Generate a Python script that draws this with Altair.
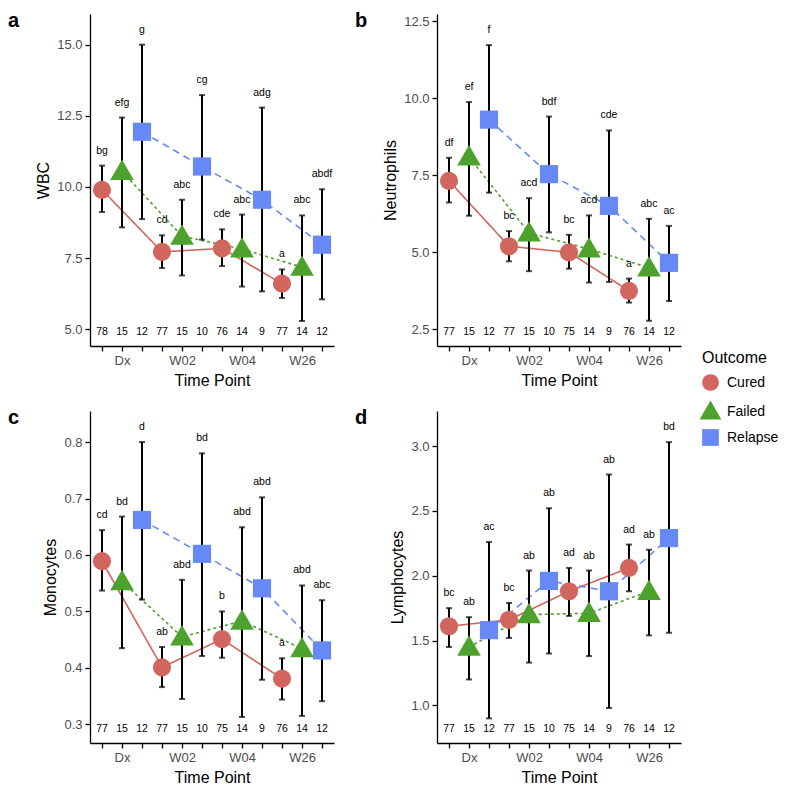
import altair as alt
import pandas as pd

timepoints = ["Dx", "W02", "W04", "W26"]
outcomes = ["Cured", "Failed", "Relapse"]
outcome_colors = ["#D2655E", "#4CA22D", "#6689F6"]
outcome_dashes = [[1, 0], [3, 3], [7, 5]]
# circle, enlarged upward triangle (ggplot pch 17), square
outcome_shapes = ["circle", "M0,-1.3L1.3,0.95L-1.3,0.95Z", "square"]

# ---- Panel a: WBC ----
wbc_mean = {"Cured": [9.90, 7.72, 7.84, 6.60], "Failed": [10.55, 8.27, 7.82, 7.18], "Relapse": [11.94, 10.72, 9.55, 7.97]}
wbc_lower = {"Cured": [9.12, 7.15, 7.22, 6.10], "Failed": [8.58, 6.89, 6.50, 5.29], "Relapse": [8.87, 8.15, 6.33, 6.05]}
wbc_upper = {"Cured": [10.75, 8.30, 8.51, 7.10], "Failed": [12.44, 9.55, 9.03, 9.00], "Relapse": [15.00, 13.23, 12.79, 9.92]}
wbc_sig = {"Cured": ["bg", "cd", "cde", "a"], "Failed": ["efg", "abc", "abc", "abc"], "Relapse": ["g", "cg", "adg", "abdf"]}
wbc_n = {"Cured": [78, 77, 76, 77], "Failed": [15, 15, 14, 14], "Relapse": [12, 10, 9, 12]}
wbc_ticks = [5.0, 7.5, 10.0, 12.5, 15.0]

# ---- Panel b: Neutrophils ----
neu_mean = {"Cured": [7.31, 5.19, 4.99, 3.74], "Failed": [8.09, 5.62, 5.10, 4.49], "Relapse": [9.30, 7.53, 6.50, 4.65]}
neu_lower = {"Cured": [6.61, 4.70, 4.46, 3.36], "Failed": [6.18, 4.38, 4.01, 2.77], "Relapse": [6.93, 5.64, 4.03, 3.41]}
neu_upper = {"Cured": [8.06, 5.68, 5.56, 4.14], "Failed": [9.87, 6.75, 6.19, 6.08], "Relapse": [11.72, 9.40, 8.95, 5.85]}
neu_sig = {"Cured": ["df", "bc", "bc", "a"], "Failed": ["ef", "acd", "acd", "abc"], "Relapse": ["f", "bdf", "cde", "ac"]}
neu_n = {"Cured": [77, 77, 75, 76], "Failed": [15, 15, 14, 14], "Relapse": [12, 10, 9, 12]}
neu_ticks = [2.5, 5.0, 7.5, 10.0, 12.5]

# ---- Panel c: Monocytes ----
mono_mean = {"Cured": [0.589, 0.401, 0.451, 0.381], "Failed": [0.553, 0.455, 0.483, 0.434], "Relapse": [0.662, 0.602, 0.541, 0.431]}
mono_lower = {"Cured": [0.537, 0.366, 0.418, 0.344], "Failed": [0.435, 0.345, 0.313, 0.315], "Relapse": [0.521, 0.421, 0.379, 0.341]}
mono_upper = {"Cured": [0.644, 0.437, 0.500, 0.417], "Failed": [0.668, 0.556, 0.649, 0.546], "Relapse": [0.800, 0.780, 0.702, 0.520]}
mono_sig = {"Cured": ["cd", "ab", "b", "a"], "Failed": ["bd", "abd", "abd", "abd"], "Relapse": ["d", "bd", "abd", "abc"]}
mono_n = {"Cured": [77, 77, 75, 76], "Failed": [15, 15, 14, 14], "Relapse": [12, 10, 9, 12]}
mono_ticks = [0.3, 0.4, 0.5, 0.6, 0.7, 0.8]

# ---- Panel d: Lymphocytes ----
lym_mean = {"Cured": [1.61, 1.66, 1.88, 2.06], "Failed": [1.45, 1.70, 1.71, 1.88], "Relapse": [1.58, 1.96, 1.88, 2.29]}
lym_lower = {"Cured": [1.45, 1.52, 1.69, 1.88], "Failed": [1.20, 1.33, 1.38, 1.54], "Relapse": [0.90, 1.40, 0.98, 1.56]}
lym_upper = {"Cured": [1.75, 1.79, 2.06, 2.24], "Failed": [1.68, 2.04, 2.04, 2.20], "Relapse": [2.26, 2.52, 2.78, 3.03]}
lym_sig = {"Cured": ["bc", "bc", "ad", "ad"], "Failed": ["ab", "ab", "ab", "ab"], "Relapse": ["ac", "ab", "ab", "bd"]}
lym_n = {"Cured": [77, 77, 75, 76], "Failed": [15, 15, 14, 14], "Relapse": [12, 10, 9, 12]}
lym_ticks = [1.0, 1.5, 2.0, 2.5, 3.0]

W, H = 244, 332
FONT = "Liberation Sans"

label_expr = " : ".join(
    f"datum.value == {ti * 3 + 2} ? '{t}'" for ti, t in enumerate(timepoints)
) + " : ''"


def panel(mean, lower, upper, sig, n, ytitle, ydomain, yticks, yfmt, letter):
    rows = []
    for oi, o in enumerate(outcomes):
        for ti, t in enumerate(timepoints):
            rows.append(dict(outcome=o, tp=t, pos=ti * 3 + oi + 1,
                             mean=mean[o][ti], lower=lower[o][ti], upper=upper[o][ti],
                             sig=sig[o][ti], n=str(n[o][ti])))
    df = pd.DataFrame(rows)
    base = alt.Chart(df)
    x = alt.X("pos:Q", scale=alt.Scale(domain=[0.4, 12.6], nice=False, zero=False),
              axis=alt.Axis(values=list(range(1, 13)), labelExpr=label_expr,
                            title="Time Point", grid=False))

    def y(field):
        return alt.Y(f"{field}:Q", scale=alt.Scale(domain=ydomain, nice=False, zero=False),
                     axis=alt.Axis(values=yticks, format=yfmt, title=ytitle, grid=False))

    lines = [
        base.transform_filter(alt.datum.outcome == o).mark_line(
            strokeWidth=1.6, color=c, strokeDash=d
        ).encode(x=x, y=y("mean"))
        for o, c, d in zip(outcomes, outcome_colors, outcome_dashes)
    ]
    bars = base.mark_rule(color="black", strokeWidth=2).encode(x=x, y=y("lower"), y2="upper:Q")
    cap_lo = base.mark_tick(color="black", thickness=2, size=6, orient="horizontal").encode(x=x, y=y("lower"))
    cap_hi = base.mark_tick(color="black", thickness=2, size=6, orient="horizontal").encode(x=x, y=y("upper"))
    pts = base.mark_point(filled=True, opacity=1, size=330).encode(
        x=x, y=y("mean"),
        color=alt.Color("outcome:N", scale=alt.Scale(domain=outcomes, range=outcome_colors), title="Outcome"),
        shape=alt.Shape("outcome:N", scale=alt.Scale(domain=outcomes, range=outcome_shapes), title="Outcome"),
    )
    sig_txt = base.mark_text(dy=-15, fontSize=10.5, font=FONT, color="black").encode(
        x=x, y=y("upper"), text="sig:N")
    n_txt = base.mark_text(fontSize=10.5, font=FONT, color="black").encode(
        x=x, y=alt.value(H - 14), text="n:N")
    tag = alt.Chart(pd.DataFrame({"l": [letter]})).mark_text(
        align="left", baseline="middle", fontSize=20, fontWeight="bold", font=FONT, color="black"
    ).encode(x=alt.value(-82), y=alt.value(7), text="l:N")
    return alt.layer(*lines, bars, cap_lo, cap_hi, pts, sig_txt, n_txt, tag).properties(width=W, height=H)


pa = panel(wbc_mean, wbc_lower, wbc_upper, wbc_sig, wbc_n, "WBC", [4.41, 16.08], wbc_ticks, ".1f", "a")
pb = panel(neu_mean, neu_lower, neu_upper, neu_sig, neu_n, "Neutrophils", [1.95, 12.73], neu_ticks, ".1f", "b")
pc = panel(mono_mean, mono_lower, mono_upper, mono_sig, mono_n, "Monocytes", [0.267, 0.855], mono_ticks, ".1f", "c")
pd_ = panel(lym_mean, lym_lower, lym_upper, lym_sig, lym_n, "Lymphocytes", [0.71, 3.27], lym_ticks, ".1f", "d")

chart = alt.vconcat(
    alt.hconcat(pa, pb, spacing=21),
    alt.hconcat(pc, pd_, spacing=21),
    spacing=20,
).properties(padding={"left": 0, "top": 3, "right": 0, "bottom": 0}).configure_view(stroke=None).configure_axis(
    domainColor="black", domainWidth=1.3, tickColor="black", tickWidth=1.3, tickSize=5,
    labelColor="#4D4D4D", labelFontSize=13, labelFont=FONT, labelPadding=3,
    titleFont=FONT, titleFontSize=16, titleFontWeight="normal", titleColor="black", titlePadding=5,
).configure_legend(
    orient="none", legendX=612, legendY=336, padding=0, titleFont=FONT, titleFontSize=16, titleFontWeight="normal",
    labelFont=FONT, labelFontSize=14, labelColor="black", symbolSize=280, rowPadding=9, titlePadding=8,
    symbolStrokeWidth=0, labelOffset=8,
)

chart.save("out.html", embed_options={"renderer": "svg", "actions": False})
